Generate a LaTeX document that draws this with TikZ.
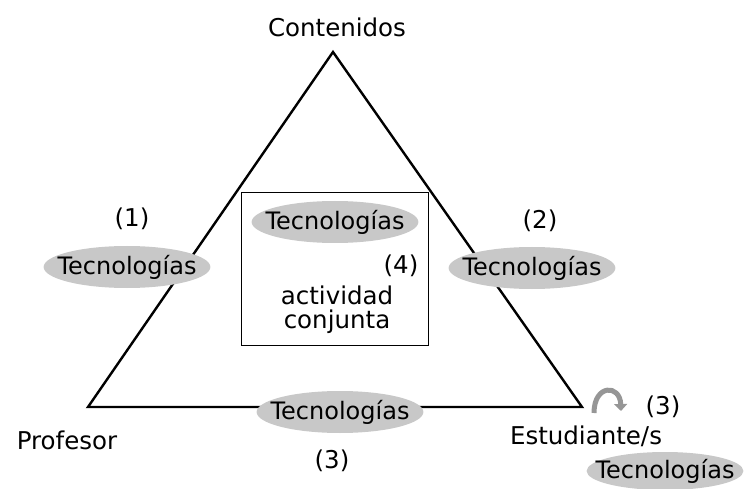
\documentclass[tikz,border=0pt]{standalone}
\usepackage{fontspec}
\setmainfont{DejaVu Sans}
\usetikzlibrary{shapes.geometric,arrows.meta}
\definecolor{ellgray}{RGB}{200,200,200}
\definecolor{arrgray}{RGB}{150,150,150}
\begin{document}
\begin{tikzpicture}[x=1pt,y=-1pt,
  tec/.style={ellipse,fill=ellgray,inner xsep=-10.5pt,inner ysep=0pt,minimum height=42pt,font=\fontsize{24}{28}\selectfont},
  lab/.style={font=\fontsize{24.5}{28}\selectfont,inner sep=1pt},
  edge/.style={line width=2.4pt,line join=miter}]
\useasboundingbox (0,0) rectangle (747,489);
\coordinate (A) at (333,52);
\coordinate (B) at (88,407);
\coordinate (C) at (582,407);
\draw[edge] (A) -- (B) -- (C) -- cycle;
\node[draw,line width=1pt,minimum width=187pt,minimum height=152pt,inner sep=0pt] (box) at (334.5,269) {};
\node[tec] (t1) at (127,267) {Tecnologías};
\node[tec] (t2) at (532,268) {Tecnologías};
\node[tec] (t4) at (335,222) {Tecnologías};
\node[tec] (t3) at (340,412) {Tecnologías};
\node[tec,inner xsep=-14pt,minimum height=38pt] (t5) at (665,471) {Tecnologías};
\node[lab] (cont) at (337,27) {Contenidos};
\node[lab] (prof) at (67,440) {Profesor};
\node[lab] (est) at (586,436) {Estudiante/s};
\node[lab] (n1) at (132,219) {(1)};
\node[lab] (n2) at (540,221) {(2)};
\node[lab] (n3) at (332,461) {(3)};
\node[lab] (n3b) at (663,407) {(3)};
\node[lab] (n4) at (401,266) {(4)};
\node[lab] (act) at (337,295) {actividad};
\node[lab] (conj) at (337,322) {conjunta};
\coordinate (a1) at (594,413);
\coordinate (a2) at (621,411);
\draw[arrgray,line width=5pt,-{Triangle[length=7pt,width=13pt]}] (a1) .. controls (594,384) and (620,384) .. (a2);
\end{tikzpicture}
\end{document}
